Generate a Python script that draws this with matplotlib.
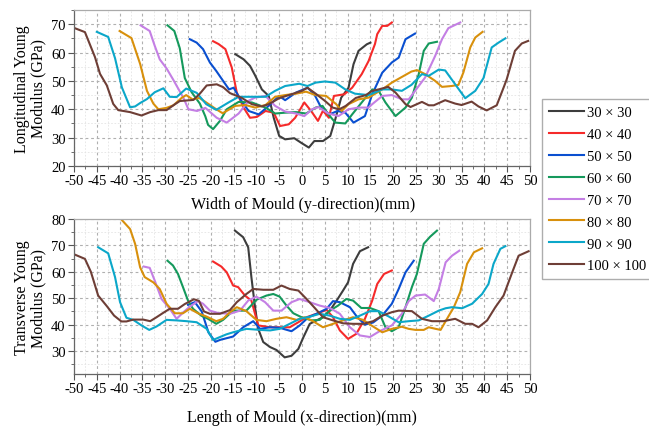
import numpy as np
import matplotlib
matplotlib.use("Agg")
import matplotlib.pyplot as plt
from matplotlib.ticker import MultipleLocator

plt.rcParams['font.family'] = ['Liberation Serif', 'DejaVu Serif']
plt.rcParams['axes.unicode_minus'] = False

sizes = ["30 × 30", "40 × 40", "50 × 50", "60 × 60",
         "70 × 70", "80 × 80", "90 × 90", "100 × 100"]
colors = ['#3d3d3d', '#f52a2a', '#0a4fd0', '#15995c',
          '#c47fe4', '#d8900c', '#0ba7c9', '#6e3e36']

# Longitudinal modulus, y-direction (top panel)
lon_x_30 = [-14.6, -12.8, -11.4, -10.3, -8.8, -7.3, -6.2, -5, -3.7, -1.7, -0.2, 1.5, 2.7, 4.6, 6.2, 7.3, 8.6, 10.2, 11.3, 12.4, 14.2, 15]
lon_y_30 = [59.4, 57.6, 55.3, 52, 47, 44.7, 37, 30.6, 29.4, 29.8, 28.2, 26.5, 28.8, 28.8, 30.6, 36.5, 44.1, 47.6, 55.9, 60.6, 62.9, 63.5]
lon_x_40 = [-19.5, -18.3, -16.8, -15.4, -14.3, -12.8, -11.4, -9.9, -8, -6.2, -4.8, -2.9, -1.5, 0.5, 2, 3.5, 4.6, 5.9, 7, 9.3, 11, 13.1, 14.6, 16, 16.5, 17.6, 18.7, 19.7]
lon_y_40 = [64, 63, 61.2, 54.7, 45.9, 40.6, 37, 37.3, 39.4, 38.8, 34.1, 34.7, 37, 42.4, 39.4, 35.9, 39.5, 37, 44.7, 45.3, 47.6, 52.4, 57, 63, 66.5, 69.4, 69.4, 70.6]
lon_x_50 = [-24.6, -23.1, -21.7, -20.2, -18.8, -17.3, -16, -15, -13.5, -11.7, -9.5, -7.3, -5, -3.7, -1.3, 1.2, 2.7, 4.2, 6, 7.8, 9.5, 11.3, 13.8, 15.4, 17.6, 19.7, 21.2, 22.7, 24.8]
lon_y_50 = [64.7, 63.5, 61.2, 56.5, 53.5, 50, 47, 47.6, 43.5, 39.4, 38.2, 41.2, 44.7, 43.2, 45.9, 47.6, 45.3, 40.6, 38.2, 39.4, 38.8, 35.3, 37.6, 45.3, 52.9, 56.5, 58.2, 64.7, 66.7]
lon_x_60 = [-29.5, -28, -26.8, -25.7, -24.2, -22.4, -21.2, -20.6, -19.5, -18, -16.5, -13.9, -11, -8, -5.9, -3.7, -1.3, 0.9, 3, 4.5, 5.8, 7.3, 9.5, 11, 13.1, 15.4, 16.8, 18.3, 20.5, 22.7, 24.1, 25.6, 26.7, 27.8, 29.6]
lon_y_60 = [69.6, 67.6, 61.5, 51, 46, 42, 37.5, 34.5, 33, 35.9, 40, 42.6, 42.4, 40.6, 38.5, 38.8, 39, 38.5, 40.6, 41.2, 38.2, 35.3, 35, 38.2, 42.4, 47, 46.5, 42.4, 37.6, 40.6, 44.1, 52.4, 60.6, 63.2, 63.8]
lon_x_70 = [-35.4, -33.4, -32.3, -31.2, -29.7, -28.3, -26, -24.9, -23, -21.2, -18.7, -16.5, -13.9, -11.7, -10.3, -8, -5.9, -3.7, -1.3, 0.5, 2.2, 3.6, 5.8, 8, 10.2, 12.4, 14.6, 15.4, 17.6, 19.7, 21.9, 23.4, 24.8, 27, 29.2, 30.7, 32.1, 34.7]
lon_y_70 = [69.6, 67.6, 62.4, 57.6, 54.4, 50.6, 44, 40, 39.4, 40.5, 37, 35.3, 38.5, 43, 44.1, 44.7, 41.2, 39.2, 38.5, 37.6, 40, 40.8, 38.5, 37.6, 40, 40.6, 40.6, 41.8, 44.7, 45, 43.5, 43.5, 46.5, 51.2, 58.8, 64.7, 68.6, 70.6]
lon_x_80 = [-40, -37.4, -35.5, -34, -32.6, -31.5, -29.7, -28.2, -26.4, -25.4, -24, -22.5, -21, -18.8, -17.4, -14.6, -12.4, -10.3, -8, -5.9, -3.7, -1.3, 0.9, 3, 5.3, 7.5, 8.7, 10.2, 12.4, 14.6, 17.6, 19.7, 21.9, 24, 25.2, 27, 29.2, 30.7, 32.8, 34.3, 35.4, 36.9, 38, 39.6]
lon_y_80 = [67.6, 65.1, 56, 46.5, 42, 40, 40.5, 41.4, 44, 45, 43.5, 44, 42.4, 40, 38.6, 41.2, 41.5, 40.6, 41.5, 44.4, 45, 45.5, 46.2, 45, 44.7, 41.8, 39.4, 41.8, 43.5, 44.1, 47, 49.4, 51.4, 53.3, 53.8, 52.4, 50, 47.9, 48.2, 48.6, 53, 61.8, 65.3, 67.3]
lon_x_90 = [-45, -42.5, -41, -39.5, -37.7, -36.6, -35.5, -34, -32.3, -30.4, -29, -27.5, -25.4, -23.1, -21, -18.8, -16, -13.9, -11, -8, -5.9, -3.7, -0.6, 1.2, 3, 5, 7.3, 9.5, 11.6, 14.6, 17.6, 19.7, 21.9, 24, 26.3, 27.8, 30, 31.4, 33.6, 35.8, 38, 39.8, 41.6, 43.1, 44.6]
lon_y_90 = [67.3, 65.5, 58, 47.7, 40.7, 41, 42.2, 43.6, 46, 47.4, 44.4, 44.3, 47.3, 45.8, 41.8, 39.8, 42.5, 44.4, 44.4, 44.4, 46.5, 48.2, 49, 48.2, 49.4, 49.8, 49.4, 47, 45.5, 45, 47, 47, 46.5, 48.6, 52.4, 51.8, 54, 53.7, 48.8, 43.9, 46.5, 51, 61.8, 63.5, 65]
lon_x_100 = [-50, -47.6, -45.4, -44.3, -42.8, -41.4, -40.3, -37.7, -35.2, -33.3, -31.5, -29.7, -28.2, -26.8, -23.8, -22.4, -20.9, -18.7, -17.3, -15.8, -13.2, -11, -8.8, -7.3, -5, -2.9, 0, 1.2, 3, 5, 6.7, 8.2, 9.6, 11.8, 14, 15.4, 16.8, 18.9, 20.5, 22.7, 23.8, 26.3, 27.8, 28.9, 31.4, 33.6, 35, 37.2, 38.7, 40.5, 42.7, 44.2, 44.9, 46.7, 48.2, 49.6]
lon_y_100 = [68.7, 67.2, 58.4, 52.5, 48.4, 41.9, 39.7, 39, 37.8, 39, 39.7, 39.7, 41.4, 42.9, 43.3, 45.5, 48.4, 48.8, 47.8, 45.7, 44, 41.8, 41, 41.8, 43.9, 45, 46.5, 47.6, 45.5, 43, 40.6, 40, 41.2, 44, 45, 46.5, 47, 47.9, 45.9, 41.8, 40.8, 42.6, 41.4, 41.4, 43.2, 42, 41.5, 42.7, 41, 39.6, 41.4, 47.6, 50.6, 60.6, 63.2, 64.1]

# Transverse modulus, x-direction (bottom panel)
tra_x_30 = [-14.7, -12.9, -11.8, -11.1, -10.3, -9.6, -8.5, -7, -5.6, -3.8, -2.3, -0.8, 0.3, 1.7, 3.2, 4.6, 6.1, 7.6, 9, 10.1, 11.2, 12.7, 14.5]
tra_y_30 = [75.6, 73.1, 69.3, 58, 46.6, 38.4, 33.4, 31.5, 30.4, 27.6, 28.2, 30.8, 35.2, 40.3, 41.6, 42.8, 45.3, 49.1, 52.9, 56, 63, 67.8, 69.3]
tra_x_40 = [-19.5, -17.7, -16.5, -15.1, -14, -12.5, -11.1, -9.6, -7, -4.9, -2.7, -0.8, 1, 3.2, 5.4, 6.8, 8.3, 10.1, 11.9, 13.8, 15.4, 16.5, 18, 19.7]
tra_y_40 = [63.9, 62, 59.8, 54.8, 54.2, 51, 49.1, 39.7, 39, 39, 39, 40.9, 42.8, 44.1, 45.6, 42.8, 37.8, 34.6, 36.5, 42.2, 49.1, 55.4, 59.2, 60.5]
tra_x_50 = [-25, -23.5, -22, -20.5, -19, -18, -15.1, -12.9, -10.7, -9.2, -7, -4.9, -2.3, -0.5, 1.4, 3.2, 5.4, 6.8, 8.3, 10.5, 12, 13.8, 15.6, 17.6, 19.7, 21.2, 22.7, 24.5]
tra_y_50 = [47.5, 48.5, 45, 37, 33.5, 34.2, 35.5, 39, 41.3, 38.4, 39, 38.8, 37.5, 39.7, 42.8, 44.1, 46, 48.9, 48.5, 46.6, 43.1, 40, 40.8, 43.4, 47.9, 53.5, 59.8, 64.2]
tra_x_60 = [-29.5, -28.3, -27.2, -26.1, -25, -23.9, -22.1, -20.6, -18.8, -17.3, -15.1, -12.2, -10, -7.8, -6.3, -4.9, -3.4, -1.9, -0.1, 2.1, 3.9, 6.1, 7.9, 9.7, 11.2, 13, 14.9, 16.8, 18.3, 19.7, 21.2, 22.7, 24.1, 25.2, 26.7, 28.1, 29.6]
tra_y_60 = [64.2, 62.4, 59.2, 54.2, 49.1, 46, 43.4, 42.2, 40.3, 41.8, 45.3, 45.3, 49.4, 51, 51.6, 50.6, 47.2, 44.3, 42.8, 41.6, 41.8, 45.3, 47.2, 49.7, 49.1, 46.3, 46.3, 45.1, 39, 37.5, 39, 46.6, 54.2, 59.2, 70.6, 73.3, 75.6]
tra_x_70 = [-34.7, -33.4, -32.3, -30.8, -29, -27.5, -26, -24.6, -22.8, -21.7, -20.2, -18.4, -15.8, -13.6, -11.8, -10, -8.1, -6.3, -4.5, -2.3, -0.5, 1.7, 3.9, 6.1, 8.3, 10.5, 12.7, 14.9, 17, 19.7, 21.9, 23.4, 24.9, 27, 28.9, 30, 31.5, 32.9, 34.5]
tra_y_70 = [62, 61.5, 56.7, 49.7, 46, 42.2, 44.7, 46.8, 48.9, 47.9, 45.3, 44.4, 44.1, 45.3, 49.1, 50.6, 48.5, 45.3, 45.3, 48.5, 49.7, 48.5, 47.2, 46.3, 44.1, 39, 35.9, 35.3, 37.5, 39.7, 44.1, 48.9, 51, 51.4, 48.9, 53.5, 63.6, 66.1, 68]
tra_x_80 = [-39.6, -37.7, -36.6, -35.5, -34.5, -32.6, -31.2, -29.7, -27.9, -26.1, -24.6, -22.8, -21, -18.8, -17.3, -15.8, -14.3, -12.2, -10, -7.8, -5.6, -3.4, -1.2, 0.6, 2.4, 4.6, 6.8, 9, 11.2, 13.4, 15.4, 17.6, 19.7, 21.9, 23.4, 24.9, 26.7, 27.8, 29.3, 30.4, 31.8, 33.3, 34.7, 36.2, 37.7, 39.5]
tra_y_80 = [79.8, 76.2, 70.6, 61.7, 58, 56, 53.5, 47.9, 44.3, 44.3, 46, 44.3, 43.1, 41.3, 42.2, 44.7, 46.6, 45.1, 41.8, 41.3, 42.2, 42.8, 41.8, 42.8, 41.3, 39, 40.3, 41.6, 42.8, 41.8, 39.5, 37.1, 38.4, 39.2, 38.4, 38, 38, 39, 38.4, 38, 42.2, 46.6, 52.3, 63, 67.4, 68.9]
tra_x_90 = [-44.7, -42.5, -41, -39.9, -38.5, -37, -35.2, -33.5, -31.9, -29.7, -27.5, -25.3, -23.1, -20.9, -19.5, -18.4, -16.6, -15.1, -12.2, -9.2, -7, -4.9, -2.7, -0.5, 1.7, 3.9, 6.1, 8.3, 10.5, 12.7, 14.9, 16.8, 19, 21.2, 23.4, 25.6, 27.8, 30, 31.5, 32.9, 35.1, 37.3, 39.5, 40.9, 42, 43.5, 44.6]
tra_y_90 = [69.3, 67, 58, 48.5, 42.6, 41.8, 39.7, 38, 39.3, 41.8, 41.6, 41.3, 40.9, 38.4, 34.2, 35, 36.3, 37.1, 38.4, 38, 37.8, 38.4, 40.3, 42.2, 43, 44.1, 43.4, 42.2, 41.8, 43.4, 45.1, 45.1, 43.1, 40.9, 41.3, 41.6, 43.4, 45.3, 46.2, 46.6, 46.2, 47.9, 51.6, 55.4, 63, 68.7, 69.7]
tra_x_100 = [-49.8, -47.6, -46.3, -44.7, -42.8, -41.2, -39.6, -38.5, -37, -34.8, -33.3, -31.9, -30.4, -29, -27.2, -25.7, -23.7, -22.6, -21.5, -20.2, -18, -15.8, -14.3, -12.2, -10.7, -8.5, -6.3, -4.5, -2.7, -0.8, 1, 2.8, 4.6, 6.8, 9, 11.2, 13.4, 15.6, 17.6, 19.7, 21.2, 24.1, 26.3, 28.5, 31, 33.6, 35.8, 37.3, 38.7, 40.6, 42.4, 44.2, 46.1, 47.5, 49.7]
tra_y_100 = [66.5, 64.9, 60, 51, 47, 43.4, 41.2, 41.2, 41.9, 41.9, 41.3, 42.8, 44.5, 46, 46, 47.8, 49.6, 49, 45, 44.1, 44.1, 45.5, 48.5, 51.6, 53.5, 53.2, 53.2, 54.8, 53.5, 52.9, 49.7, 46.3, 42.8, 41.6, 40.5, 40.3, 40.3, 41.3, 43.4, 44.7, 45.3, 45.1, 42.2, 41.3, 41.3, 42.2, 40.3, 40.3, 39, 41.6, 46.6, 51, 59.8, 66.1, 67.8]

lon = [(lon_x_30, lon_y_30), (lon_x_40, lon_y_40), (lon_x_50, lon_y_50), (lon_x_60, lon_y_60),
       (lon_x_70, lon_y_70), (lon_x_80, lon_y_80), (lon_x_90, lon_y_90), (lon_x_100, lon_y_100)]
tra = [(tra_x_30, tra_y_30), (tra_x_40, tra_y_40), (tra_x_50, tra_y_50), (tra_x_60, tra_y_60),
       (tra_x_70, tra_y_70), (tra_x_80, tra_y_80), (tra_x_90, tra_y_90), (tra_x_100, tra_y_100)]

W, H = 649, 427
fig = plt.figure(figsize=(W / 100, H / 100), dpi=100)
ax1 = fig.add_axes([74 / W, 1 - 167 / H, 456 / W, 156 / H])
ax2 = fig.add_axes([74 / W, 1 - 375 / H, 456 / W, 155 / H])


def style(ax, ylim, yticks):
    ax.set_xlim(-50, 50)
    ax.set_ylim(*ylim)
    ax.set_xticks(np.arange(-50, 51, 5))
    ax.set_yticks(yticks)
    ax.xaxis.set_minor_locator(MultipleLocator(2.5))
    ax.yaxis.set_minor_locator(MultipleLocator(5))
    ax.grid(True, which='major', color='#b0b0b0', linestyle=(0, (2.5, 2.5)), linewidth=0.8)
    ax.grid(True, which='minor', color='#e4e4e4', linestyle=(0, (2, 2)), linewidth=0.6)
    ax.set_axisbelow(True)
    ax.tick_params(which='major', direction='out', length=4, width=0.8,
                   color='#555555', labelsize=10.5, pad=2)
    ax.tick_params(which='minor', direction='out', length=2, width=0.6, color='#555555')
    for s in ['top', 'right']:
        ax.spines[s].set_color('#aaaaaa')
    for s in ['left', 'bottom']:
        ax.spines[s].set_color('#666666')
    for s in ax.spines.values():
        s.set_linewidth(0.9)


for (xs, ys), c, lab in zip(lon, colors, sizes):
    ax1.plot(xs, ys, color=c, lw=1.5, label=lab)
for (xs, ys), c in zip(tra, colors):
    ax2.plot(xs, ys, color=c, lw=1.5)

style(ax1, (20, 75), np.arange(20, 71, 10))
style(ax2, (21.3, 80), np.arange(30, 81, 10))

fig.text(303 / W, 1 - 205 / H, "Width of Mould (y-direction)(mm)", ha='center', va='center', fontsize=11.5)
fig.text(302 / W, 1 - 418 / H, "Length of Mould (x-direction)(mm)", ha='center', va='center', fontsize=11.5)
fig.text(30 / W, 1 - 89 / H, "Longitudinal Young\nModulus (GPa)", ha='center', va='center',
         rotation=90, fontsize=11.5, multialignment='center', linespacing=1.05)
fig.text(30 / W, 1 - 298 / H, "Transverse Young\nModulus (GPa)", ha='center', va='center',
         rotation=90, fontsize=11.5, multialignment='center', linespacing=1.05)

leg = fig.legend(handles=ax1.get_lines(), loc='upper left',
                 bbox_to_anchor=(542 / W, 1 - 100 / H), bbox_transform=fig.transFigure,
                 fontsize=10.5, frameon=True, fancybox=False, borderaxespad=0,
                 handlelength=2.4, handletextpad=0.25, labelspacing=0.6, borderpad=0.45)
leg.get_frame().set_edgecolor('#999999')
leg.get_frame().set_linewidth(1.0)

fig.savefig("out.png", dpi=100)
